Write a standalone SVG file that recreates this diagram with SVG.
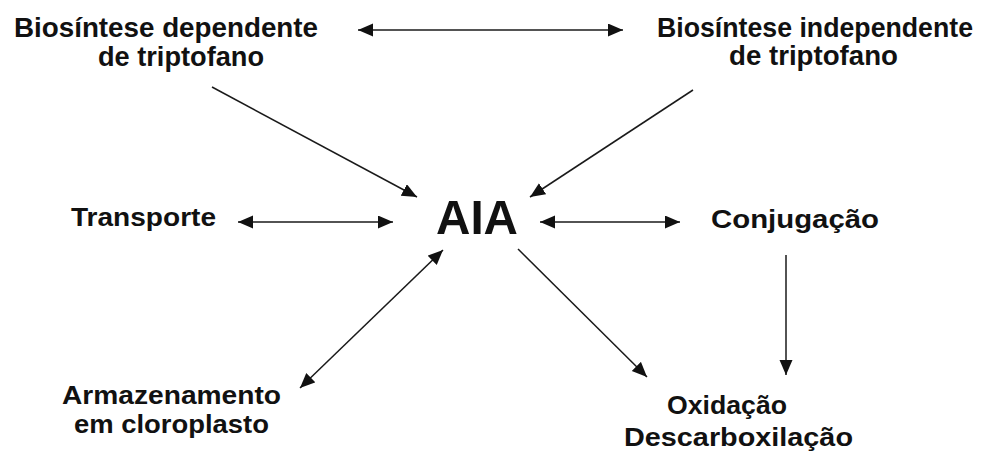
<svg xmlns="http://www.w3.org/2000/svg" width="992" height="460" viewBox="0 0 992 460">
<style>
  text { font-family: "Liberation Sans", Arial, sans-serif; font-weight: bold; fill: #111; }
  .t { font-size: 28px; }
  .n { font-size: 26.5px; }
  .big { font-size: 49px; }
  .c { stroke: #1a1a1a; stroke-width: 1.5; fill: none; }
</style>
<defs>
  <marker id="ah" markerUnits="userSpaceOnUse" markerWidth="16" markerHeight="14" refX="15" refY="6.5" orient="auto-start-reverse">
    <path d="M0,0 L15,6.5 L0,13 Z" fill="#111"/>
  </marker>
</defs>
<rect width="992" height="460" fill="#fff"/>
<g id="bio-dep">
  <text class="t" x="14" y="37" textLength="304" lengthAdjust="spacingAndGlyphs">Biosíntese dependente</text>
  <text class="t" x="98" y="66" textLength="166" lengthAdjust="spacingAndGlyphs">de triptofano</text>
</g>
<g id="bio-indep">
  <text class="t" x="973" y="37" text-anchor="end" textLength="316" lengthAdjust="spacingAndGlyphs">Biosíntese independente</text>
  <text class="t" x="729" y="65" textLength="169" lengthAdjust="spacingAndGlyphs">de triptofano</text>
</g>
<g id="aia">
  <text class="big" x="436" y="234" textLength="82" lengthAdjust="spacingAndGlyphs">AIA</text>
</g>
<g id="transporte">
  <text class="n" x="71" y="226" textLength="145" lengthAdjust="spacingAndGlyphs">Transporte</text>
</g>
<g id="conjugacao">
  <text class="n" x="711" y="228" textLength="168" lengthAdjust="spacingAndGlyphs">Conjugação</text>
</g>
<g id="armazenamento">
  <text class="n" x="62" y="404" textLength="219" lengthAdjust="spacingAndGlyphs">Armazenamento</text>
  <text class="n" x="74" y="433" textLength="195" lengthAdjust="spacingAndGlyphs">em cloroplasto</text>
</g>
<g id="oxidacao">
  <text class="n" x="667" y="414" textLength="120" lengthAdjust="spacingAndGlyphs">Oxidação</text>
</g>
<g id="descarboxilacao">
  <text class="n" x="624" y="446" textLength="229" lengthAdjust="spacingAndGlyphs">Descarboxilação</text>
</g>
<g id="connectors">
  <line class="c" x1="358" y1="30" x2="623" y2="30" marker-start="url(#ah)" marker-end="url(#ah)"/>
  <line class="c" x1="212" y1="87" x2="417" y2="197" marker-end="url(#ah)"/>
  <line class="c" x1="693" y1="90" x2="530" y2="197" marker-end="url(#ah)"/>
  <line class="c" x1="238" y1="222" x2="393" y2="222" marker-start="url(#ah)" marker-end="url(#ah)"/>
  <line class="c" x1="540" y1="222" x2="680" y2="222" marker-start="url(#ah)" marker-end="url(#ah)"/>
  <line class="c" x1="443" y1="250" x2="300" y2="388" marker-start="url(#ah)" marker-end="url(#ah)"/>
  <line class="c" x1="518" y1="249" x2="647" y2="377" marker-end="url(#ah)"/>
  <line class="c" x1="786" y1="255" x2="786" y2="375" marker-end="url(#ah)"/>
</g>
</svg>
